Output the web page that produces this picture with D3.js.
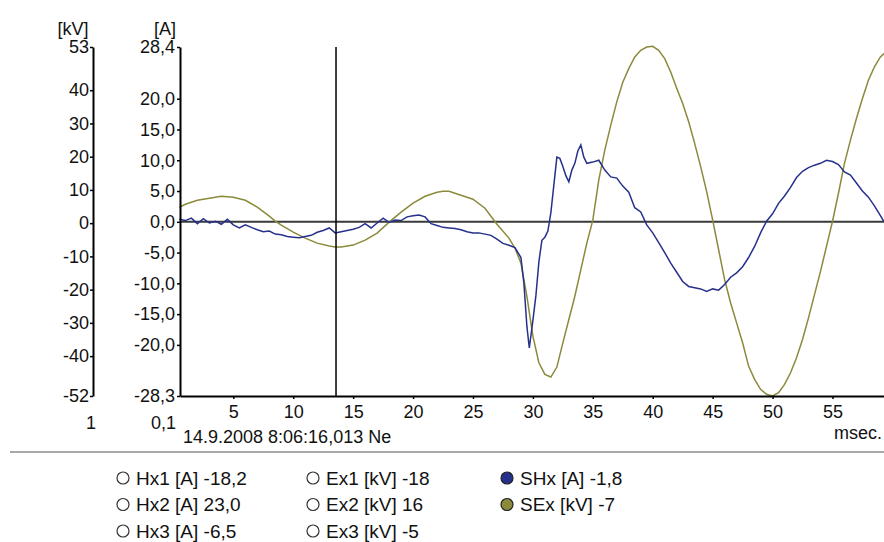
<!DOCTYPE html>
<html>
<head>
<meta charset="utf-8">
<script src="https://cdn.jsdelivr.net/npm/d3@7"></script>
<style>
  body { margin: 0; background: #fff; }
  svg text { font-family: "Liberation Sans", Arial, sans-serif; font-size: 18px; fill: #111; }
  svg .leg text { font-size: 19px; }
</style>
</head>
<body>
<svg id="chart" width="884" height="542"></svg>
<script>
// tick labels
const kvTicks = [53, 40, 30, 20, 10, 0, -10, -20, -30, -40, -52];
const aTicks = [28.4, 20, 15, 10, 5, 0, -5, -10, -15, -20, -28.3];
const msTicks = [5, 10, 15, 20, 25, 30, 35, 40, 45, 50, 55];
const cursorTime = 13.57;

// SEx [kV]
const sexT = [0.5, 1, 2, 3, 4, 5, 6, 7, 8, 8.5, 9, 10, 11, 12, 13, 13.5, 14, 15, 16, 17, 18, 19, 20, 21, 22, 22.5, 23, 24, 25, 26, 27, 28, 28.5, 29, 29.5, 30, 30.5, 31, 31.5, 32, 32.5, 33, 33.5, 34, 34.5, 35, 35.5, 36, 36.5, 37, 37.5, 38, 38.5, 39, 39.5, 40, 40.5, 41, 41.5, 42, 42.5, 43, 43.5, 44, 44.5, 45, 45.5, 46, 46.5, 47, 47.5, 48, 48.5, 49, 49.5, 50, 50.5, 51, 51.5, 52, 52.5, 53, 53.5, 54, 54.5, 55, 55.5, 56, 56.5, 57, 57.5, 58, 58.5, 59, 59.3];
const sexKV = [4.8, 5.7, 6.9, 7.5, 8.1, 7.8, 6.9, 4.8, 2.1, 0.6, -0.6, -2.7, -4.5, -6.0, -6.9, -7.2, -7.2, -6.6, -5.1, -3.0, 0.3, 3.3, 6.0, 8.1, 9.3, 9.6, 9.6, 8.4, 7.2, 4.5, -0.3, -4.5, -7.5, -12, -22, -34, -42, -45.5, -46.3, -43.3, -36, -29, -22, -14, -6, 0.9, 13, 22, 29.5, 36.5, 42.4, 46.5, 50, 52, 53, 53.2, 52, 49.5, 45.5, 40.6, 36, 30.5, 24, 17, 9.5, 1, -8, -17, -24, -30, -36, -43, -47, -50, -51.5, -52, -51, -48.5, -45, -40.5, -35, -28.5, -21.5, -14.5, -7, 0.5, 9, 18, 25, 31.5, 37.5, 43, 47, 50, 51];

// SHx [A]
const shxT = [0.5, 1, 1.5, 2, 2.5, 3, 3.5, 4, 4.5, 5, 5.5, 6, 6.5, 7, 7.5, 8, 8.5, 9, 9.5, 10, 10.5, 11, 11.5, 12, 12.5, 13, 13.5, 14, 14.5, 15, 15.5, 16, 16.5, 17, 17.5, 18, 18.5, 19, 19.5, 20, 20.5, 21, 21.5, 22, 22.5, 23, 23.5, 24, 24.5, 25, 25.5, 26, 26.5, 27, 27.5, 28, 28.5, 29, 29.25, 29.5, 29.7, 30, 30.25, 30.5, 30.75, 31, 31.25, 31.5, 31.75, 32, 32.25, 32.5, 32.75, 33, 33.25, 33.5, 33.75, 34, 34.25, 34.5, 35, 35.5, 36, 36.5, 37, 37.5, 38, 38.5, 39, 39.5, 40, 40.5, 41, 41.5, 42, 42.5, 43, 43.5, 44, 44.5, 45, 45.5, 46, 46.5, 47, 47.5, 48, 48.5, 49, 49.5, 50, 50.5, 51, 51.5, 52, 52.5, 53, 53.5, 54, 54.5, 55, 55.5, 56, 56.5, 57, 57.5, 58, 58.5, 59, 59.3];
const shxA = [0.4, 0.2, 0.6, -0.3, 0.5, -0.2, 0.1, -0.4, 0.4, -0.5, -1.0, -0.5, -0.9, -1.3, -1.6, -1.5, -2.0, -2.1, -2.4, -2.5, -2.6, -2.4, -2.2, -1.7, -1.4, -1.0, -1.8, -1.6, -1.4, -1.2, -0.9, -0.3, -1.0, -0.2, 0.6, -0.1, 0.3, 0.2, 0.8, 1.0, 1.1, 0.8, -0.3, -0.6, -0.9, -1.0, -1.1, -1.3, -1.6, -1.8, -1.8, -2.0, -2.2, -2.8, -3.5, -3.8, -4.2, -5.8, -10, -17, -20.5, -16, -12, -6.5, -3, -2.5, -1.5, 1.5, 6, 10.5, 10.3, 9, 7.5, 6.5, 8.4, 9.5, 11.5, 12.5, 10.5, 9.5, 9.7, 10.0, 8.4, 7.3, 7.1, 5.8, 4.8, 2.3, 1.6, -0.5, -1.8, -3.4, -5.0, -6.7, -8.2, -9.7, -10.5, -10.7, -10.9, -11.3, -10.9, -11.1, -10.2, -9.0, -8.3, -7.3, -5.8, -4.0, -1.8, 0.1, 1.3, 3.0, 4.2, 5.6, 7.2, 8.2, 8.8, 9.2, 9.5, 10.0, 9.8, 9.3, 8.1, 7.6, 6.3, 5.0, 4.0, 2.6, 1.0, 0.0];

const legendNames = ["Hx1 [A] -18,2", "Hx2 [A] 23,0", "Hx3 [A] -6,5", "Ex1 [kV] -18", "Ex2 [kV] 16", "Ex3 [kV] -5", "SHx [A] -1,8", "SEx [kV] -7"];

const navy = "#26318c", olive = "#8b8a3b";
const legendFill = [null, null, null, null, null, null, navy, olive];

const svg = d3.select("#chart");
const plotTop = 47, plotBottom = 396, plotLeft = 180, plotRight = 884;

const x = d3.scaleLinear().domain([0.55, 59.3]).range([plotLeft, plotRight]);
const yKV = d3.scaleLinear().domain([-52, 53]).range([plotBottom, plotTop]);
const yA = d3.scaleLinear().domain([-28.3, 28.4]).range([plotBottom, plotTop]);

const loc = d3.formatLocale({decimal: ",", thousands: ".", grouping: [3], currency: ["", ""], minus: "-"});

// zero line
svg.append("line").attr("x1", plotLeft).attr("x2", plotRight).attr("y1", yA(0)).attr("y2", yA(0))
  .attr("stroke", "#3a3a3a").attr("stroke-width", 2);

// curves
const lineSEx = d3.line().x(function(d, i) { return x(sexT[i]); }).y(function(d) { return yKV(d); });
const lineSHx = d3.line().x(function(d, i) { return x(shxT[i]); }).y(function(d) { return yA(d); });

svg.append("path").datum(sexKV).attr("d", lineSEx).attr("fill", "none").attr("stroke", olive).attr("stroke-width", 1.5);
svg.append("path").datum(shxA).attr("d", lineSHx).attr("fill", "none").attr("stroke", navy).attr("stroke-width", 1.5);

// cursor
svg.append("line").attr("x1", x(cursorTime)).attr("x2", x(cursorTime)).attr("y1", plotTop).attr("y2", plotBottom)
  .attr("stroke", "#000").attr("stroke-width", 1.5);

// axes
const gKV = svg.append("g").attr("transform", "translate(93,0)")
  .call(d3.axisLeft(yKV).tickValues(kvTicks).tickSize(3).tickSizeOuter(0).tickPadding(1).tickFormat(loc.format("d")));
const gA = svg.append("g").attr("transform", "translate(" + plotLeft + ",0)")
  .call(d3.axisLeft(yA).tickValues(aTicks).tickSize(3).tickSizeOuter(0).tickPadding(2).tickFormat(loc.format(".1f")));
const gX = svg.append("g").attr("transform", "translate(0," + plotBottom + ")")
  .call(d3.axisBottom(x).tickValues(msTicks).tickSize(3).tickSizeOuter(0).tickPadding(6).tickFormat(loc.format("d")));

[gKV, gA, gX].forEach(function(g) {
  g.attr("font-size", null).attr("font-family", null);
  g.select(".domain").attr("stroke", "#000").attr("stroke-width", 2);
  g.selectAll(".tick line").attr("stroke", "#000").attr("stroke-width", 1.5);
  g.selectAll(".tick text").attr("fill", "#111");
});

// axis titles and footers
svg.append("text").attr("x", 73).attr("y", 35).attr("text-anchor", "middle").text("[kV]");
svg.append("text").attr("x", 165).attr("y", 35).attr("text-anchor", "middle").text("[A]");
svg.append("text").attr("x", 91).attr("y", 429).attr("text-anchor", "middle").text("1");
svg.append("text").attr("x", 176).attr("y", 429).attr("text-anchor", "end").text("0,1");
svg.append("text").attr("x", 183).attr("y", 443).text("14.9.2008 8:06:16,013 Ne");
svg.append("text").attr("x", 882).attr("y", 439).attr("text-anchor", "end").text("msec.");

// separator
svg.append("line").attr("x1", 10).attr("x2", 884).attr("y1", 452).attr("y2", 452)
  .attr("stroke", "#a8a8a8").attr("stroke-width", 2);

// legend
const colX = [123, 313, 507], rowY = [478, 504.5, 531];
const leg = svg.selectAll(".leg").data(legendNames).enter().append("g").attr("class", "leg")
  .attr("transform", function(d, i) { return "translate(" + colX[Math.floor(i / 3)] + "," + rowY[i % 3] + ")"; });
leg.append("circle").attr("r", 6)
  .attr("fill", function(d, i) { return legendFill[i] || "#fff"; })
  .attr("stroke", function(d, i) { return legendFill[i] ? "#222" : "#333"; })
  .attr("stroke-width", 1.2);
leg.append("text").attr("x", 13).attr("dy", "0.36em").text(function(d) { return d; });
</script>
</body>
</html>
